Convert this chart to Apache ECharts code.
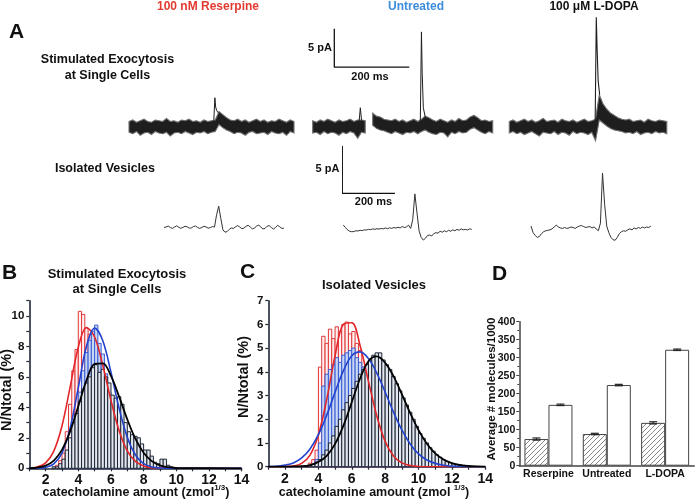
<!DOCTYPE html>
<html><head><meta charset="utf-8">
<script src="https://cdn.jsdelivr.net/npm/echarts@6/dist/echarts.min.js"></script>
<style>html,body{margin:0;padding:0;background:#fff}#chart{width:695px;height:502px}</style>
</head><body><div id="chart"></div>
<script>
const FONT = "'Liberation Sans', Arial, Helvetica, sans-serif";

// ---------- Panel A ----------
const conditions = ['100 nM Reserpine', 'Untreated', '100 \u03bcM L-DOPA'];
// stimulated exocytosis traces (pA): upper / lower envelope of the dense recording, one bin every 10 ms
const traceDt = 10;
const traceResHi = [0.7,0.9,0.6,0.8,1.0,0.7,0.6,0.9,0.8,0.7, 1.1,0.7,0.8,0.6,0.9,0.8,1.0,0.7,0.8,0.6, 0.9,0.7,0.8,0.9,2.0,1.6,1.2,0.9,0.8,1.0, 0.7,0.9,0.6,0.8,1.0,0.7,0.9,0.6,0.8,0.7, 1.0,0.8,0.6,0.9,0.7];
const traceResLo = [-0.7,-0.9,-0.6,-1.1,-0.8,-0.7,-1.0,-0.6,-0.8,-0.9, -0.7,-1.2,-0.8,-0.7,-0.9,-0.6,-0.8,-1.0,-0.7,-0.8, -0.6,-0.9,-0.7,-0.6,0.3,-0.1,-0.4,-0.6,-0.9,-0.7, -0.8,-1.1,-0.7,-0.6,-0.9,-0.8,-0.7,-1.0,-0.6,-0.8, -0.9,-0.7,-1.1,-0.6,-0.8];
const traceUntHi = [0.8,0.6,0.9,0.7,1.0,0.8,0.6,0.9,0.7,0.8, 1.0,0.7,0.9,0.9,0.8,null,1.8,1.4,1.3,1.0, 0.9,0.8,1.0,0.7,0.9,0.6,0.8,1.0,0.7,1.0, 1.4,1.2,0.9,0.7,1.0,0.8,0.6,0.9,0.7,1.1, 0.8,0.9,1.3,1.5,1.2,0.8,0.9,0.7,0.8];
const traceUntLo = [-0.8,-0.7,-1.0,-0.6,-0.9,-0.7,-0.8,-1.1,-0.7,-0.9, -0.6,-0.8,-1.5,-0.7,-0.8,null,0.2,-0.2,-0.4,-0.5, -0.7,-0.9,-0.6,-0.8,-1.0,-0.7,-0.8,-0.6,-0.9,-0.6, -0.4,-0.7,-0.9,-1.0,-0.7,-0.8,-1.3,-0.7,-0.9,-0.6, -0.8,-0.7,-0.3,-0.1,-0.4,-0.7,-0.9,-0.6,-0.8];
const traceDopaHi = [0.7,0.9,0.6,0.8,1.0,0.7,0.9,0.6,0.8,1.1, 0.7,0.8,0.9,0.6,1.0,0.8,0.7,0.9,0.6,0.8, 1.0,0.7,0.8,1.0,4.2,3.0,2.3,1.8,1.5,1.2, 1.0,0.9,1.0,0.7,0.8,0.9,0.6,1.0,0.8,0.7, 0.9,0.8,0.7];
const traceDopaLo = [-0.8,-0.6,-0.9,-0.7,-1.0,-0.8,-0.6,-0.9,-1.2,-0.7, -0.8,-0.9,-0.6,-1.0,-0.7,-0.8,-1.1,-0.6,-0.9,-0.7, -0.8,-1.0,-0.7,-1.8,0.9,0.5,0.1,-0.2,-0.4,-0.5, -0.6,-0.8,-0.7,-0.9,-0.6,-1.0,-0.8,-0.7,-0.9,-0.6, -0.8,-0.7,-0.9];
// exocytotic spikes (time in ms, current in pA)
const spikeResT = [226, 229, 231, 234, 239];
const spikeResV = [0.7, 3.8, 2.6, 2.1, 1.8];
const spikeUntSmallT = [124, 127, 130, 133];
const spikeUntSmallV = [0.8, 2.5, 1.0, 0.6];
const spikeUntT = [287, 290, 292, 295, 300];
const spikeUntV = [0.8, 12.4, 7.0, 2.5, 1.3];
const spikeDopaT = [229, 232, 234, 237, 241];
const spikeDopaV = [0.8, 14.3, 10.5, 6.0, 4.2];
// isolated vesicle traces (pA), one sample every 8 ms
const vesDt = 8;
const vesReserpine = [0.05,0.1,0.2,0.05,-0.05,0.1,0.22,0.08,-0.04,0.06,0.18,0.12,-0.02,0.0,0.15,0.2,0.05,-0.05,0.05,0.18,0.1,-0.02,0.04,0.14,
0.1,1.4,2.3,1.0,-0.2,-0.45,-0.38,-0.15,0.0,-0.05,0.12,0.25,0.1,-0.08,-0.02,0.18,0.28,0.1,-0.1,0.0,0.2,0.3,0.1,-0.1,-0.05,0.18,0.25,0.05,-0.12,0.05,0.28,0.12,-0.05,-0.02];
const vesUntreated = [0.3,0.05,-0.2,-0.35,-0.4,-0.38,-0.3,-0.32,-0.25,-0.28,-0.2,-0.22,-0.15,-0.18,-0.1,-0.15,-0.08,-0.12,-0.05,-0.1,
0.0,-0.08,0.02,-0.05,0.05,-0.02,0.08,0.0,0.15,0.05,0.1,0.3,-0.05,0.9,3.6,1.6,-0.3,-1.0,-1.28,-1.1,
-0.8,-0.75,-0.85,-0.6,-0.5,-0.55,-0.35,-0.45,-0.3,-0.4,-0.25,-0.35,-0.2,-0.3,-0.15,-0.25,-0.1,-0.2,-0.15,-0.22,-0.1,-0.15];
const vesLDopa = [0.2,-0.5,-0.8,-1.0,-0.9,-0.6,-0.4,-0.3,-0.25,-0.2,-0.1,0.1,0.3,0.1,0.0,-0.05,0.05,-0.05,0.0,0.1,
0.05,-0.05,0.1,0.2,0.25,0.15,0.05,0.1,0.15,0.0,0.1,-0.1,-0.3,0.5,5.8,2.5,0.2,-0.5,-1.0,-1.25,
-1.3,-1.0,-0.6,-0.4,-0.3,-0.35,-0.2,-0.1,-0.2,0.0,-0.1,0.05,-0.05,0.1,0.0,0.1,0.05,0.2];
// scale bars: 5 pA x 200 ms, origin in data units of the untreated traces
const scaleBarPA = 5, scaleBarMs = 200;
const scaleOrigin1 = [57.6, 7.8];
const scaleOrigin2 = [-3.8, 3.66];

// ---------- Panel B: stimulated exocytosis histograms (N/Ntotal %) ----------
const binWidth = 0.2;
const binsB = [2.5,2.7,2.9,3.1,3.3,3.5,3.7,3.9,4.1,4.3,4.5,4.7,4.9,5.1,5.3,5.5,5.7,5.9,6.1,6.3,6.5,6.7,6.9,7.1,7.3,7.5,7.7,7.9,8.1,8.3,8.5,8.7,8.9,9.1,9.3,9.5,9.7];
const histResB = [0,0.2,0.5,1.0,2.4,4.2,6.4,7.8,10.3,10.1,9.2,8.8,8.6,7.8,6.0,5.0,4.0,3.2,2.6,1.9,1.5,1.2,0.9,0.7,0.6,0.5,0.6,0.3,0.2,0.9,0.1,0,0,0,0,0,0];
const histUntB = [0,0,0.1,0.3,0.6,1.2,2.4,3.6,5.0,6.4,7.6,8.4,9.0,9.4,8.2,7.5,6.2,5.0,4.0,3.2,2.4,2.0,1.8,1.4,1.0,0.7,0.5,0.3,0.2,0.1,0,0,0,0,0,0,0];
const histDopaB = [0.1,0.1,0.3,0.6,1.2,2.0,3.0,3.6,4.4,5.2,5.6,6.0,6.6,6.8,6.3,6.5,6.0,5.6,4.8,4.6,4.7,4.2,3.0,2.4,2.2,2.1,2.0,1.6,1.2,1.2,0.8,0.4,0.3,0.6,0.6,0.2,0.1];
const fitXB = [1,1.5,2,2.5,3,3.5,4,4.5,5,5.5,6,6.5,7,7.5,8,8.5,9,9.5,10,14];
const fitResB = [0,0.09,0.36,1.13,2.78,5.33,7.95,9.24,8.62,6.76,4.46,2.47,1.15,0.45,0.15,0.04,0.01,0,0,0];
const fitUntB = [0,0.01,0.06,0.29,1.00,2.64,5.29,8.01,9.2,8.37,6.30,3.93,2.03,0.87,0.31,0.09,0.02,0,0,0];
const fitDopaB = [0.01,0.05,0.18,0.51,1.21,2.42,4.07,5.76,6.85,6.89,6.06,4.70,3.21,1.93,1.02,0.47,0.19,0.07,0.02,0];

// ---------- Panel C: isolated vesicle histograms ----------
const binsC = [3.1,3.3,3.5,3.7,3.9,4.1,4.3,4.5,4.7,4.9,5.1,5.3,5.5,5.7,5.9,6.1,6.3,6.5,6.7,6.9,7.1,7.3,7.5,7.7,7.9,8.1,8.3,8.5,8.7,8.9,9.1,9.3,9.5,9.7,9.9,10.1,10.3,10.5,10.7,10.9,11.1,11.3,11.5,11.7,11.9,12.1,12.3,12.5,12.7,12.9];
const histResC = [0,0.05,0.15,0.3,0.7,4.2,5.5,5.2,5.8,5.4,5.9,5.7,6.0,6.1,5.6,5.7,5.2,4.9,4.2,3.5,3.0,2.5,2.0,1.7,1.3,1.0,0.8,0.6,0.5,0.35,0.3,0.15,0.1,0.1,0.05,0,0,0,0,0,0,0,0,0,0,0,0,0,0,0];
const histUntC = [0,0,0.05,0.1,0.3,1.0,3.4,3.9,4.1,4.3,4.6,4.4,4.7,4.8,4.9,5.0,4.6,4.4,4.2,4.2,4.0,3.8,3.5,3.2,2.9,2.6,2.3,2.0,1.7,1.4,1.2,1.0,0.8,0.6,0.5,0.4,0.3,0.2,0.15,0.1,0.05,0,0,0,0,0,0,0,0,0];
const histDopaC = [0,0.02,0.05,0.1,0.2,0.3,0.5,0.7,1.0,1.3,1.7,2.0,2.4,2.7,3.0,3.3,3.6,3.9,4.1,4.3,4.5,4.7,4.8,4.8,4.5,4.3,4.1,3.8,3.5,3.2,2.9,2.6,2.3,2.0,1.7,1.4,1.2,1.0,0.8,0.65,0.5,0.4,0.3,0.22,0.17,0.12,0.1,0.08,0.06,0.05];
const fitXC = [1,1.5,2,2.5,3,3.5,4,4.5,5,5.5,6,6.5,7,7.5,8,8.5,9,9.5,10,10.5,11,11.5,12,12.5,13,13.5,14];
const fitResC = [0,0,0.01,0.03,0.14,0.49,1.34,2.84,4.68,6.01,6.07,5.10,3.60,2.14,1.07,0.45,0.16,0.05,0.01,0,0,0,0,0,0,0,0];
const fitUntC = [0.01,0.02,0.07,0.16,0.37,0.75,1.35,2.17,3.14,4.05,4.68,4.84,4.56,3.95,3.15,2.30,1.55,0.96,0.54,0.28,0.14,0.06,0.02,0.01,0,0,0];
const fitDopaC = [0,0,0,0.01,0.02,0.07,0.20,0.46,0.96,1.73,2.72,3.72,4.45,4.65,4.38,3.82,3.06,2.26,1.54,0.97,0.56,0.30,0.15,0.07,0.03,0.01,0];

// ---------- Panel D ----------
const dCategories = ['Reserpine', 'Untreated', 'L-DOPA'];
const dCells = [74, 88, 119];
const dCellsErr = [3, 2, 3];
const dVesicles = [169, 224, 322];
const dVesiclesErr = [2, 2, 2];

// ---------- styles ----------
const RED = '#e3262a', BLUE = '#2343cf', BLK = '#000';
const hatch = document.createElement('canvas');
hatch.width = 5; hatch.height = 5;
(function(){const c = hatch.getContext('2d'); c.fillStyle = '#fff'; c.fillRect(0,0,5,5);
 c.strokeStyle = '#7a7a7a'; c.lineWidth = 0.9;
 c.beginPath(); c.moveTo(0,5); c.lineTo(5,0); c.moveTo(-1,1); c.lineTo(1,-1); c.moveTo(4,6); c.lineTo(6,4); c.stroke();})();
const measureCtx = document.createElement('canvas').getContext('2d');
function measure(text, size) { measureCtx.font = 'bold ' + size + 'px ' + FONT; return measureCtx.measureText(text).width; }

const chart = echarts.init(document.getElementById('chart'), null, {renderer: 'canvas'});

const traceGrids = [
  {left: 129, top: 12, width: 168, height: 134, xmax: 448, ymin: -2.5, ymax: 15},
  {left: 312.7, top: 12, width: 183, height: 134, xmax: 488, ymin: -2.5, ymax: 15},
  {left: 509.3, top: 12, width: 160, height: 134, xmax: 426.7, ymin: -2.5, ymax: 15},
  {left: 164, top: 140, width: 121, height: 109.7, xmax: 460, ymin: -2.3, ymax: 9.3},
  {left: 343.3, top: 140, width: 128.4, height: 109.7, xmax: 488, ymin: -2.3, ymax: 9.3},
  {left: 531, top: 140, width: 120.7, height: 109.7, xmax: 459, ymin: -2.3, ymax: 9.3}
];
const grids = traceGrids.map(g => ({left: g.left, top: g.top, width: g.width, height: g.height}));
grids.push({left: 29.3, top: 300.7, width: 212.3, height: 167.6});
grids.push({left: 268.3, top: 300.7, width: 217, height: 166});
grids.push({left: 519.3, top: 321.7, width: 175, height: 144});

const axLine = {show: true, lineStyle: {color: '#1e2838', width: 1.6}};
const xAxes = traceGrids.map((g, i) => ({type: 'value', gridIndex: i, min: 0, max: g.xmax, show: false}));
const yAxes = traceGrids.map((g, i) => ({type: 'value', gridIndex: i, min: g.ymin, max: g.ymax, show: false}));
const histX = (gi) => ({type: 'value', gridIndex: gi, min: 1, max: 14, interval: 1,
  axisLine: axLine, axisTick: {show: true, inside: false, length: 3, lineStyle: {color: '#1e2838', width: 1.2}},
  splitLine: {show: false},
  axisLabel: {margin: 5, fontFamily: FONT, fontWeight: 'bold', fontSize: 14, color: '#111',
    formatter: v => (v % 2 === 0 ? String(v) : '')}});
xAxes.push(histX(6), histX(7));
yAxes.push({type: 'value', gridIndex: 6, min: 0, max: 11, interval: 1, axisLine: axLine,
  axisTick: {show: true, length: 3, lineStyle: {color: '#1e2838', width: 1.2}}, splitLine: {show: false},
  axisLabel: {margin: 5, fontFamily: FONT, fontWeight: 'bold', fontSize: 11.5, color: '#111',
    formatter: v => (v % 2 === 0 ? String(v) : '')}});
yAxes.push({type: 'value', gridIndex: 7, min: 0, max: 7, interval: 1, axisLine: axLine,
  axisTick: {show: true, length: 3, lineStyle: {color: '#1e2838', width: 1.2}}, splitLine: {show: false},
  axisLabel: {margin: 5, fontFamily: FONT, fontWeight: 'bold', fontSize: 11.5, color: '#111'}});
xAxes.push({type: 'category', gridIndex: 8, data: dCategories, boundaryGap: true,
  axisLine: {show: true, lineStyle: {color: '#444', width: 1.5}}, axisTick: {show: false},
  axisLabel: {margin: 3, fontFamily: FONT, fontWeight: 'bold', fontSize: 10.5, color: '#111', interval: 0}});
yAxes.push({type: 'value', gridIndex: 8, min: 0, max: 400, interval: 50,
  axisLine: {show: true, lineStyle: {color: '#444', width: 1.5}},
  axisTick: {show: true, length: 3, lineStyle: {color: '#444'}},
  minorTick: {show: true, splitNumber: 2, length: 2, lineStyle: {color: '#444'}},
  splitLine: {show: false},
  axisLabel: {margin: 4, fontFamily: FONT, fontWeight: 'bold', fontSize: 10.5, color: '#111'}});

const series = [];
// dense recording drawn as its min/max envelope band
function bandSeries(gi, hi, lo, dt) {
  series.push({type: 'custom', xAxisIndex: gi, yAxisIndex: gi, silent: true, z: 3,
    data: hi.map((h, i) => [i * dt, h === null ? 0 : h, lo[i] === null ? 0 : lo[i]]),
    renderItem: (params, api) => {
      if (params.dataIndex !== 0) return {type: 'group', children: []};
      const polys = []; let cur = [];
      const flush = () => {
        if (cur.length > 1) {
          const top = cur.map(i => api.coord([i * dt, hi[i]]));
          const bot = cur.slice().reverse().map(i => api.coord([i * dt, lo[i]]));
          polys.push({type: 'polygon', shape: {points: top.concat(bot)},
            style: {fill: '#1e1e1e', stroke: '#6e6e6e', lineWidth: 1.1}});
        }
        cur = [];
      };
      hi.forEach((h, i) => { if (h === null) flush(); else cur.push(i); });
      flush();
      return {type: 'group', children: polys};
    }});
}
bandSeries(0, traceResHi, traceResLo, traceDt);
bandSeries(1, traceUntHi, traceUntLo, traceDt);
bandSeries(2, traceDopaHi, traceDopaLo, traceDt);
function lineSeries(gi, xs, ys, width, color, z) {
  series.push({type: 'line', xAxisIndex: gi, yAxisIndex: gi, data: xs.map((x, i) => [x, ys[i]]),
    showSymbol: false, symbol: 'none', connectNulls: false, clip: false, z: z || 2,
    lineStyle: {color: color, width: width}, silent: true});
}
lineSeries(0, spikeResT, spikeResV, 1, '#1e1e1e', 4);
lineSeries(1, spikeUntSmallT, spikeUntSmallV, 1, '#1e1e1e', 4);
lineSeries(1, spikeUntT, spikeUntV, 1, '#1e1e1e', 4);
lineSeries(2, spikeDopaT, spikeDopaV, 1.1, '#1e1e1e', 4);
lineSeries(3, vesReserpine.map((v, i) => i * vesDt), vesReserpine, 1, '#333');
lineSeries(4, vesUntreated.map((v, i) => i * vesDt), vesUntreated, 1, '#333');
lineSeries(5, vesLDopa.map((v, i) => i * vesDt), vesLDopa, 1, '#333');
function scaleBar(gi, o) {
  series.push({type: 'line', xAxisIndex: gi, yAxisIndex: gi, clip: false, showSymbol: false, symbol: 'none', silent: true,
    data: [[o[0], o[1] + scaleBarPA], [o[0], o[1]], [o[0] + scaleBarMs, o[1]]],
    lineStyle: {color: '#111', width: 1.3}});
}
scaleBar(1, scaleOrigin1);
scaleBar(4, scaleOrigin2);

function histSeries(gi, bins, vals, stroke, fill, z) {
  series.push({type: 'custom', xAxisIndex: gi, yAxisIndex: gi, z: z, silent: true,
    data: bins.map((x, i) => [x, vals[i]]),
    renderItem: (params, api) => {
      const x = api.value(0), y = api.value(1);
      if (!(y > 0)) return {type: 'group', children: []};
      const a = api.coord([x - binWidth / 2, y]);
      const b = api.coord([x + binWidth / 2, 0]);
      return {type: 'rect', shape: {x: a[0], y: a[1], width: b[0] - a[0], height: b[1] - a[1]},
        style: {fill: fill, stroke: stroke, lineWidth: 1}};
    }});
}
function fitSeries(gi, xs, ys, color, width) {
  series.push({type: 'line', xAxisIndex: gi, yAxisIndex: gi, data: xs.map((x, i) => [x, ys[i]]),
    smooth: 0.35, showSymbol: false, symbol: 'none', z: 10, silent: true,
    lineStyle: {color: color, width: width}});
}
histSeries(6, binsB, histResB, '#e0383a', 'rgba(255,240,240,0.9)', 2);
histSeries(6, binsB, histUntB, '#3a5bd6', '#c9d8f2', 3);
histSeries(6, binsB, histDopaB, '#1c2434', '#e3e7ee', 4);
fitSeries(6, fitXB, fitResB, RED, 1.6);
fitSeries(6, fitXB, fitUntB, BLUE, 1.6);
fitSeries(6, fitXB, fitDopaB, BLK, 1.8);
histSeries(7, binsC, histResC, '#e0383a', 'rgba(255,240,240,0.9)', 2);
histSeries(7, binsC, histUntC, '#3a5bd6', '#c9d8f2', 3);
histSeries(7, binsC, histDopaC, '#1c2434', '#e3e7ee', 4);
fitSeries(7, fitXC, fitResC, RED, 1.6);
fitSeries(7, fitXC, fitUntC, BLUE, 1.6);
fitSeries(7, fitXC, fitDopaC, BLK, 1.8);

series.push({type: 'bar', xAxisIndex: 8, yAxisIndex: 8, data: dCells, barWidth: 24, barGap: '0%', silent: true,
  itemStyle: {color: {image: hatch, repeat: 'repeat'}, borderColor: '#444', borderWidth: 1}});
series.push({type: 'bar', xAxisIndex: 8, yAxisIndex: 8, data: dVesicles, barWidth: 24, barGap: '0%', silent: true,
  itemStyle: {color: '#fff', borderColor: '#444', borderWidth: 1}});
function errSeries(vals, errs, off) {
  series.push({type: 'custom', xAxisIndex: 8, yAxisIndex: 8, z: 10, silent: true,
    data: vals.map((v, i) => [i, v, errs[i]]),
    renderItem: (params, api) => {
      const i = api.value(0), v = api.value(1), e = api.value(2);
      const t = api.coord([i, v + e]), b = api.coord([i, v - e]);
      const x = t[0] + off;
      const st = {stroke: '#222', lineWidth: 1.2};
      return {type: 'group', children: [
        {type: 'line', shape: {x1: x, y1: t[1], x2: x, y2: b[1]}, style: st},
        {type: 'line', shape: {x1: x - 4, y1: t[1], x2: x + 4, y2: t[1]}, style: st},
        {type: 'line', shape: {x1: x - 4, y1: b[1], x2: x + 4, y2: b[1]}, style: st}]};
    }});
}
errSeries(dCells, dCellsErr, -12);
errSeries(dVesicles, dVesiclesErr, 12);

function txt(text, x, y, size, opt) {
  opt = opt || {};
  return {type: 'text', x: x, y: y, rotation: opt.rot || 0, silent: true, z: 100,
    style: {text: text, fill: opt.color || '#111', font: 'bold ' + size + 'px ' + FONT,
      align: opt.align || 'center', verticalAlign: 'middle', lineHeight: opt.lh || size * 1.25}};
}
function xTitle(cx, y, lead) {
  const main = 'catecholamine amount (zmol' + lead, sup = '1/3', close = ')';
  const w1 = measure(main, 12.5), w2 = measure(sup, 8), w3 = measure(close, 12.5);
  const x0 = cx - (w1 + w2 + w3) / 2;
  return [txt(main, x0, y, 12.5, {align: 'left'}), txt(sup, x0 + w1, y - 5, 8, {align: 'left'}),
          txt(close, x0 + w1 + w2, y, 12.5, {align: 'left'})];
}
const graphics = [
  txt(conditions[0], 208, 7, 12, {color: '#e23a30'}),
  txt(conditions[1], 416, 7, 12, {color: '#3d8ddb'}),
  txt(conditions[2], 594, 7, 12, {color: '#111'}),
  txt('A', 9, 32, 21, {align: 'left'}),
  txt('Stimulated Exocytosis\nat Single Cells', 107.5, 68, 12.5, {lh: 16}),
  txt('Isolated Vesicles', 155, 169, 12.5, {align: 'right'}),
  txt('5 pA', 320, 48.3, 11),
  txt('200 ms', 370, 76.7, 11),
  txt('5 pA', 327.5, 169.3, 11),
  txt('200 ms', 373.5, 202.3, 11),
  txt('B', 2, 273, 21, {align: 'left'}),
  txt('Stimulated Exocytosis\nat Single Cells', 117, 282, 13, {lh: 14.5}),
  txt('N/Ntotal (%)', 7, 390, 14.5, {rot: Math.PI / 2}),
  ...xTitle(136, 493, ''),
  txt('C', 240, 272, 21, {align: 'left'}),
  txt('Isolated Vesicles', 374, 285, 13),
  txt('N/Ntotal (%)', 244, 377, 14.5, {rot: Math.PI / 2}),
  ...xTitle(374, 493, ' '),
  txt('D', 492, 274, 21, {align: 'left'}),
  txt('Average # molecules/1000', 492, 389, 11.5, {rot: Math.PI / 2})
];

chart.setOption({
  animation: false,
  backgroundColor: '#fff',
  grid: grids,
  xAxis: xAxes,
  yAxis: yAxes,
  series: series,
  graphic: graphics
});
</script></body></html>
